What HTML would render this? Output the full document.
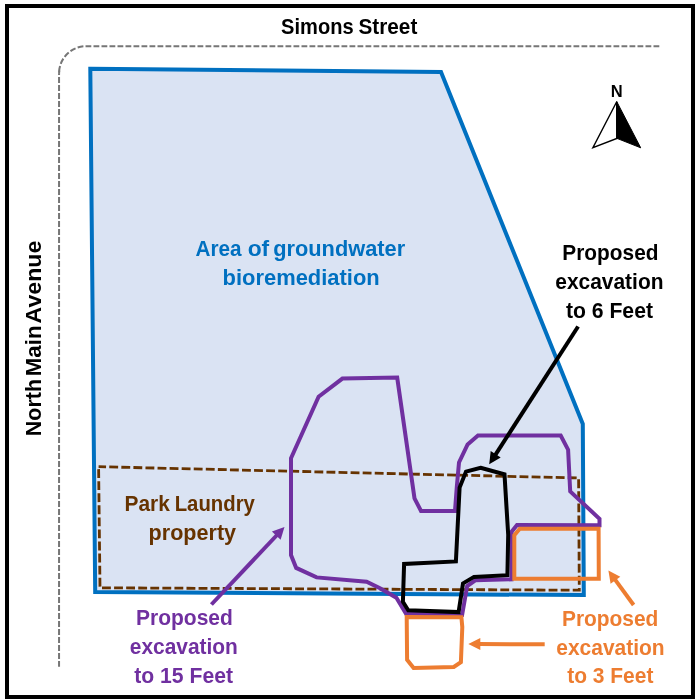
<!DOCTYPE html>
<html lang="en">
<head>
<meta charset="utf-8">
<title>Park Laundry site plan</title>
<style>
  html, body { margin: 0; padding: 0; background: #ffffff; }
  body { width: 696px; height: 700px; overflow: hidden; }
  svg { display: block; will-change: transform; }
  text { font-family: "Liberation Sans", sans-serif; font-weight: bold; font-size: 21.5px; }
</style>
</head>
<body>
<svg width="696" height="700" viewBox="0 0 696 700">
  <rect x="0" y="0" width="696" height="700" fill="#ffffff"/>

  <!-- outer frame -->
  <rect x="7" y="6" width="686" height="691" fill="none" stroke="#000000" stroke-width="4"/>

  <!-- street edge (dashed grey) -->
  <g fill="none" stroke="#767676" stroke-width="2" stroke-dasharray="5.8 2.2">
    <path d="M659.3 46.2 H86 A27 27 0 0 0 59.05 73.2"/>
    <path d="M59.05 73.2 V666.7" stroke-dashoffset="4.1"/>
    <path d="M59.25 70.8 L59.05 73.6" stroke-dasharray="none"/>
  </g>

  <!-- groundwater bioremediation area -->
  <polygon points="90.3,68.8 441,72 582.8,424 583.8,595.1 95.2,592" fill="#dae3f3" stroke="#0070c0" stroke-width="4" stroke-linejoin="miter"/>

  <!-- Park Laundry property (dashed brown) -->
  <polygon points="98.6,466.7 578.6,478 579.3,590.2 100,587.8" fill="none" stroke="#663300" stroke-width="2.8" stroke-dasharray="8.87 3.2" stroke-dashoffset="1.4"/>

  <!-- excavation to 15 feet (purple) -->
  <polygon points="291,458.3 318.6,396.7 342.4,378.6 397.2,377.6 414.5,498.4 421,510.9 455,510.9 456.8,487 459,462.5 467.6,444.5 478,435.5 560.7,435.5 568.1,449.7 570.2,491.4 599.5,518.8 599.5,525.2 517,525 511.6,531.7 511.6,579.3 475.3,580.3 467.2,586 462.1,615 405.9,613.6 396.4,597.8 380,588.2 366.6,581.7 316.6,577.4 296.2,567.9 291,555" fill="none" stroke="#7030a0" stroke-width="4" stroke-linejoin="miter"/>

  <!-- excavation to 3 feet (orange) -->
  <polygon points="519.8,528.8 598.6,528.8 598.8,578.8 514.3,578.8 514.3,535.2" fill="none" stroke="#ed7d31" stroke-width="4"/>
  <polygon points="406.7,616.9 461.4,617.2 462.3,627 460.9,662.2 453.8,666.9 413.6,667.9 407.1,659.7" fill="none" stroke="#ed7d31" stroke-width="4"/>

  <!-- excavation to 6 feet (black) -->
  <polygon points="480.5,467.8 504.5,474.4 508.2,535 507.4,575.2 474,576.9 463,583.4 458.6,612.1 408.2,610.2 402.9,601.8 404.1,564 455.9,561.4 459.6,487.6 466,471.6" fill="none" stroke="#000000" stroke-width="4"/>

  <!-- arrows -->
  <g id="arrows">
    <line x1="578.1" y1="326.5" x2="495.2" y2="455.1" stroke="#000" stroke-width="4"/>
    <polygon points="489.2,464.3 500.7,457.5 490.7,451.0" fill="#000"/>
    <line x1="211.4" y1="604.5" x2="277.0" y2="535.0" stroke="#7030a0" stroke-width="4"/>
    <polygon points="284.5,527 271.9,531.6 280.6,539.8" fill="#7030a0"/>
    <line x1="633.6" y1="605" x2="614.9" y2="579.4" stroke="#ed7d31" stroke-width="4"/>
    <polygon points="608.4,570.5 610.6,583.7 620.3,576.7" fill="#ed7d31"/>
    <line x1="544.7" y1="644.2" x2="479.3" y2="644.1" stroke="#ed7d31" stroke-width="4"/>
    <polygon points="468.3,644.1 480.3,650.1 480.3,638.1" fill="#ed7d31"/>
  </g>

  <!-- north arrow -->
  <g id="north">
    <polygon points="616.7,101.8 592.9,147.6 616.8,138.4" fill="#ffffff" stroke="#000" stroke-width="1.4" stroke-linejoin="miter"/>
    <polygon points="616.7,101.5 640.7,147.8 616.8,138.3" fill="#000" stroke="#000" stroke-width="1"/>
    <text x="616.8" y="97.2" text-anchor="middle" style="font-size:16.5px">N</text>
  </g>

  <!-- labels -->
  <text y="34.0" fill="#000"><tspan x="281.12" textLength="72.53" lengthAdjust="spacingAndGlyphs">Simons</tspan> <tspan x="358.50" textLength="58.82" lengthAdjust="spacingAndGlyphs">Street</tspan></text>
  <text y="255.6" fill="#0070c0"><tspan x="195.42" textLength="46.10" lengthAdjust="spacingAndGlyphs">Area</tspan> <tspan x="247.67" textLength="21.55" lengthAdjust="spacingAndGlyphs">of</tspan> <tspan x="273.21" textLength="131.92" lengthAdjust="spacingAndGlyphs">groundwater</tspan></text>
  <text x="222.60" y="284.6" textLength="157.09" lengthAdjust="spacingAndGlyphs" fill="#0070c0">bioremediation</text>
  <text x="562.37" y="260.2" textLength="96.10" lengthAdjust="spacingAndGlyphs" fill="#000">Proposed</text>
  <text x="555.25" y="289.3" textLength="108.22" lengthAdjust="spacingAndGlyphs" fill="#000">excavation</text>
  <text x="565.95" y="318.0" textLength="87.02" lengthAdjust="spacingAndGlyphs" fill="#000">to 6 Feet</text>
  <text y="510.9" fill="#663300"><tspan x="124.46" textLength="45.34" lengthAdjust="spacingAndGlyphs">Park</tspan> <tspan x="174.70" textLength="80.19" lengthAdjust="spacingAndGlyphs">Laundry</tspan></text>
  <text x="148.62" y="539.6" textLength="87.50" lengthAdjust="spacingAndGlyphs" fill="#663300">property</text>
  <text x="135.96" y="625.2" textLength="96.92" lengthAdjust="spacingAndGlyphs" fill="#7030a0">Proposed</text>
  <text x="129.75" y="654.0" textLength="108.12" lengthAdjust="spacingAndGlyphs" fill="#7030a0">excavation</text>
  <text x="134.25" y="683.0" textLength="98.79" lengthAdjust="spacingAndGlyphs" fill="#7030a0">to 15 Feet</text>
  <text x="561.96" y="625.8" textLength="96.40" lengthAdjust="spacingAndGlyphs" fill="#ed7d31">Proposed</text>
  <text x="556.25" y="654.5" textLength="108.43" lengthAdjust="spacingAndGlyphs" fill="#ed7d31">excavation</text>
  <text x="567.16" y="683.1" textLength="86.22" lengthAdjust="spacingAndGlyphs" fill="#ed7d31">to 3 Feet</text>
  <text transform="translate(40.9 434.8) rotate(-90)" y="0" fill="#000"><tspan x="-1.37" textLength="57.30" lengthAdjust="spacingAndGlyphs">North</tspan> <tspan x="58.58" textLength="50.73" lengthAdjust="spacingAndGlyphs">Main</tspan> <tspan x="111.36" textLength="82.75" lengthAdjust="spacingAndGlyphs">Avenue</tspan></text>
</svg>
</body>
</html>
